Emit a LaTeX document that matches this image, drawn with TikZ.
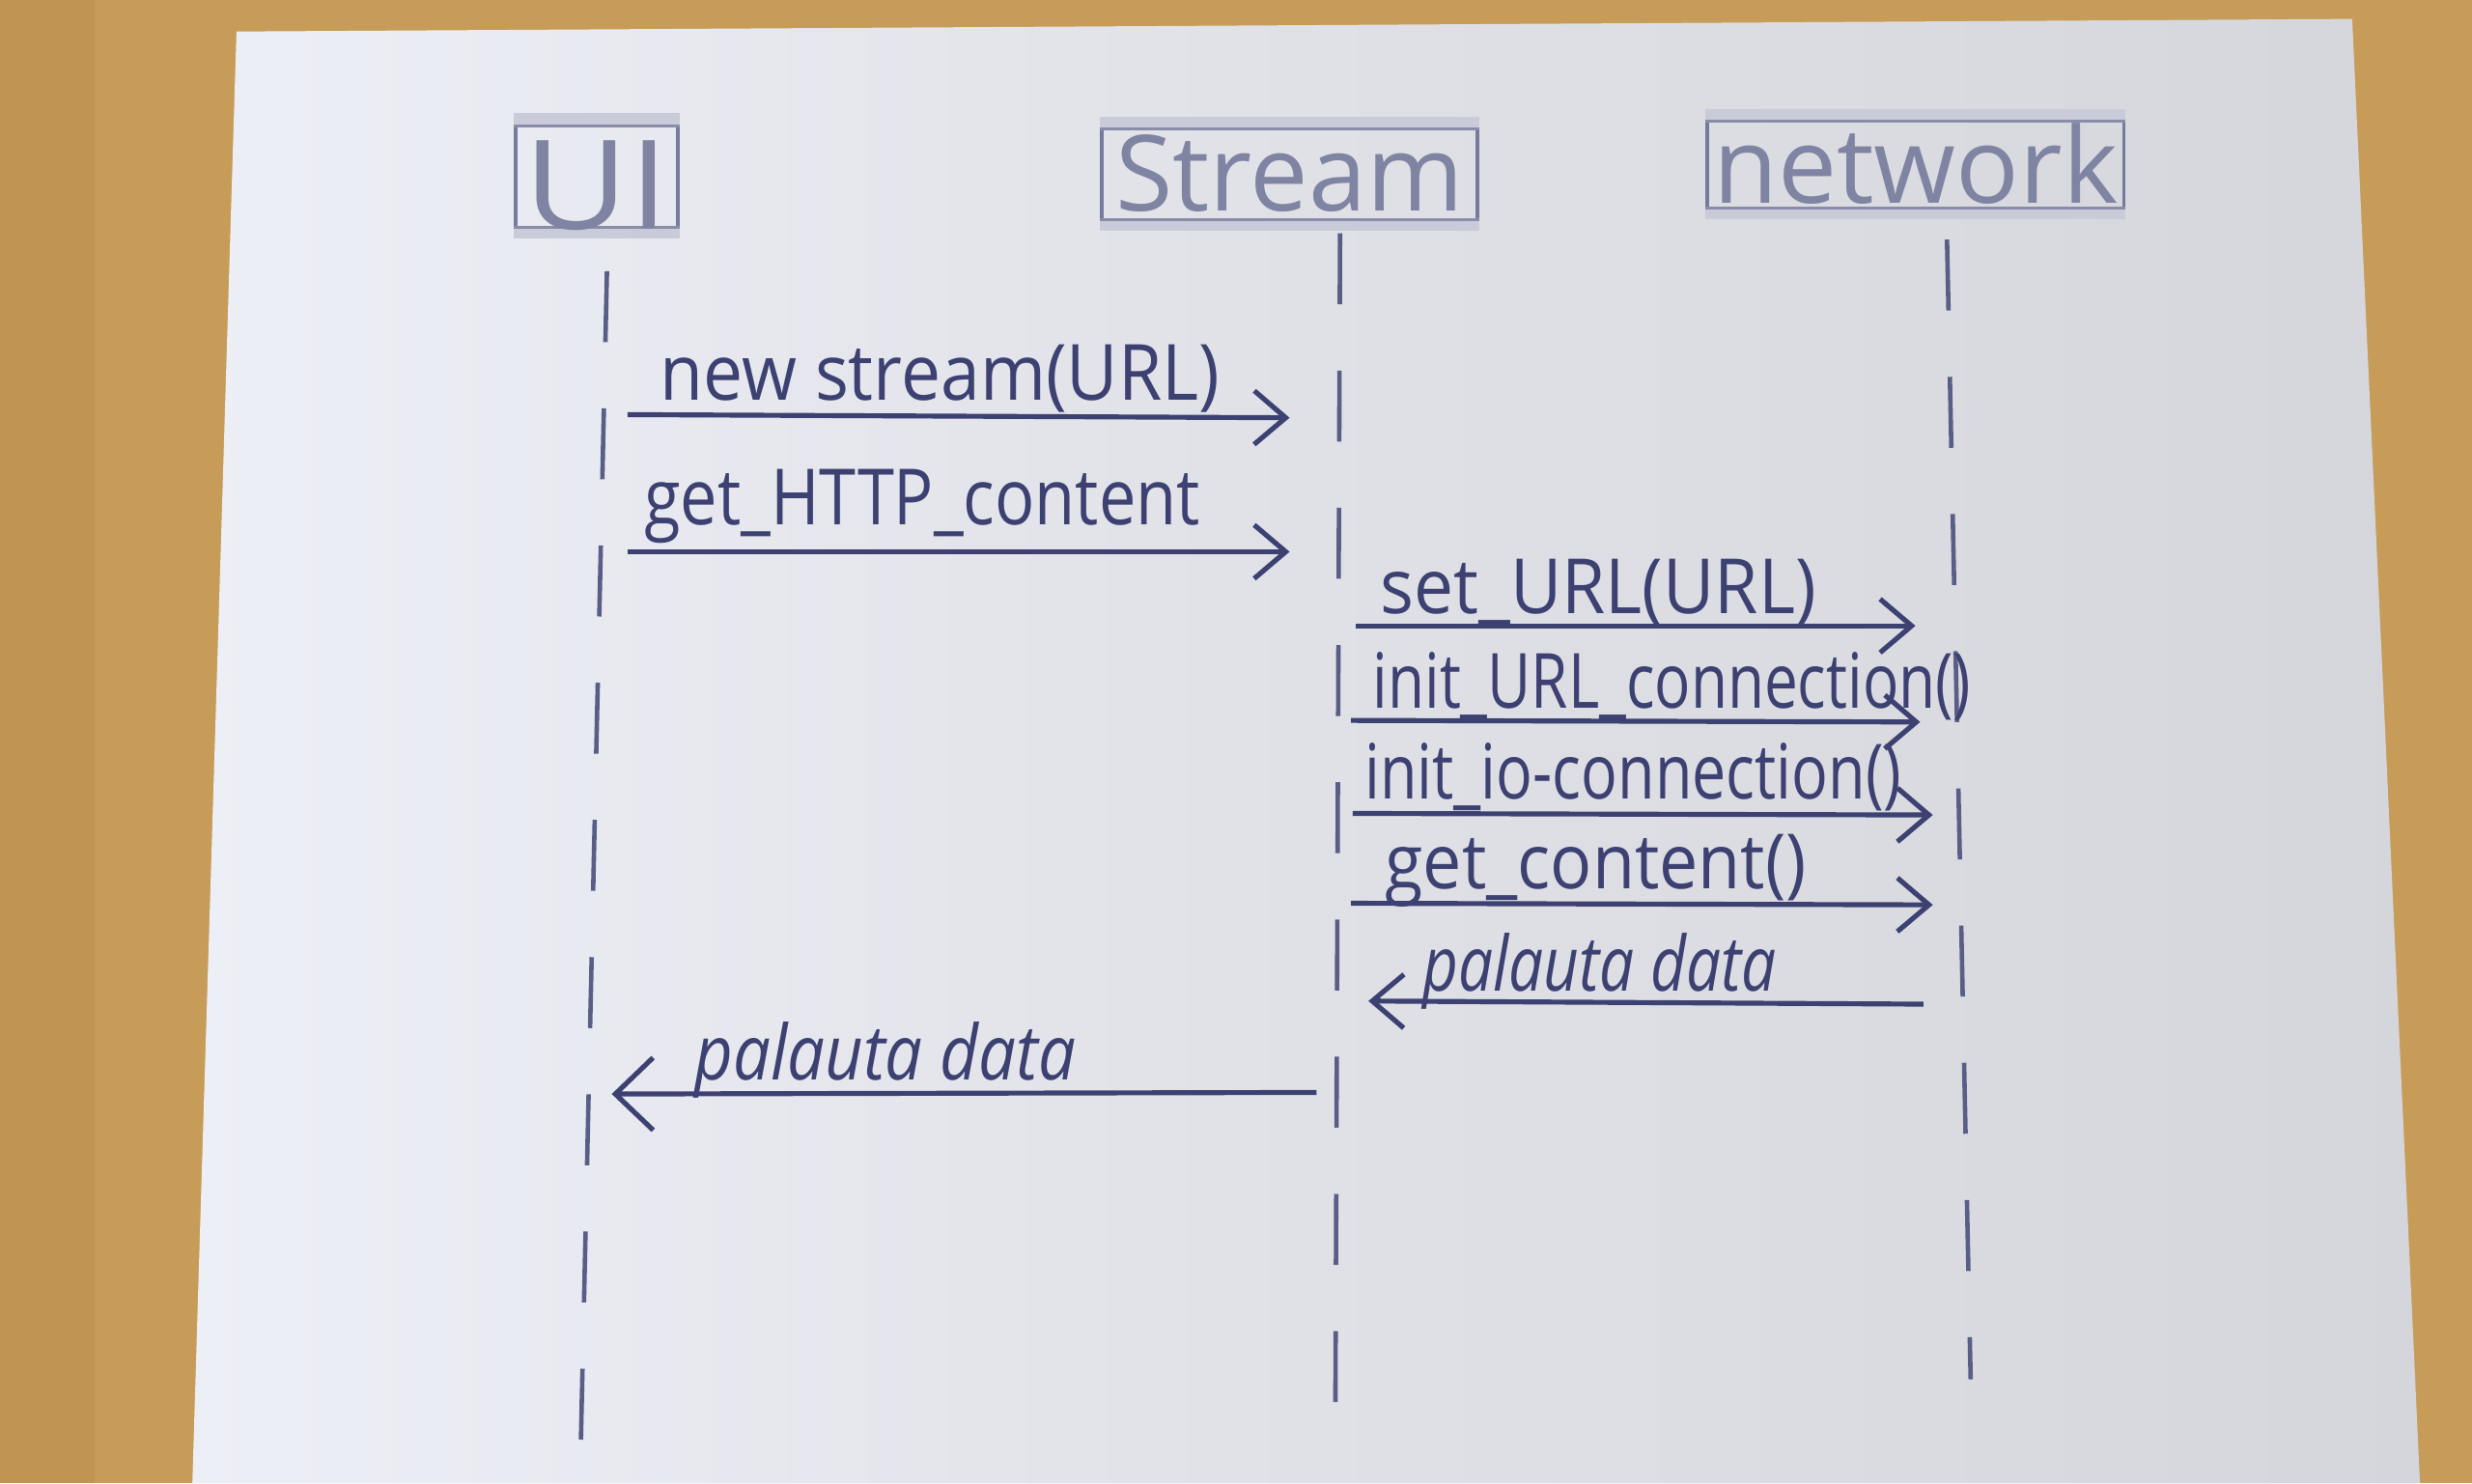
\documentclass[tikz,border=0pt]{standalone}
\usepackage{fontspec}
\setmainfont{Open Sans}
\usetikzlibrary{arrows.meta}
\definecolor{wood}{HTML}{C69C58}
\definecolor{woodD}{HTML}{B58A47}
\definecolor{paperL}{HTML}{EDEFF6}
\definecolor{paperM}{HTML}{E0E1E7}
\definecolor{paperR}{HTML}{D5D6DB}
\definecolor{pencil}{HTML}{3C4172}
\definecolor{band}{HTML}{C9CBD8}
\tikzset{
  msg/.style={draw=pencil, line width=0.9pt, -{Straight Barb[length=0.2cm,width=0.34cm,line width=0.9pt]}},
  life/.style={draw=pencil!85, line width=0.8pt, dash pattern=on 0.45cm off 0.42cm},
  lbl/.style={text=pencil, font=\fontsize{12.5}{15}\selectfont, inner sep=0pt, anchor=base west},
  headbox/.style={draw=pencil!70, line width=0.6pt, inner sep=0pt},
  headtxt/.style={text=pencil!65, font=\fontsize{20}{24}\selectfont, inner sep=0pt},
}
\newcommand{\headbands}[1]{%
  \fill[band] (#1.north west) rectangle ([yshift=-0.08cm]#1.north east);
  \draw[pencil!60, line width=0.5pt] ([yshift=-0.08cm]#1.north west) -- ([yshift=-0.08cm]#1.north east);
  \fill[band] (#1.south west) rectangle ([yshift=0.07cm]#1.south east);
  \draw[pencil!60, line width=0.5pt] ([yshift=0.07cm]#1.south west) -- ([yshift=0.07cm]#1.south east);
}
\begin{document}
\begin{tikzpicture}[x=0.01cm, y=-0.01cm]
\useasboundingbox (0,0) rectangle (1568,941);
% table
\fill[wood] (0,0) rectangle (1568,941);
\fill[woodD, opacity=0.35] (0,0) rectangle (60,941);
% paper
\shade[left color=paperL, right color=paperR, middle color=paperM]
  (150,20) -- (1492,12) -- (1535,941) -- (122,941) -- cycle;

% headers
\node[headbox, minimum width=1.03cm, minimum height=0.77cm] (ui) at (378.5,111.5) {};
\node[headbox, minimum width=2.38cm, minimum height=0.70cm] (stream) at (818,110) {};
\node[headbox, minimum width=2.64cm, minimum height=0.68cm] (net) at (1215,104) {};
\headbands{ui}
\headbands{stream}
\headbands{net}
\node[headtxt] (uit) at ([yshift=-0.06cm]ui.center) {\scalebox{1.3}[1.12]{UI}};
\node[headtxt] (streamt) at (stream.center) {\scalebox{0.94}[0.95]{Stream}};
\node[headtxt] (nett) at (net.center) {\scalebox{0.95}[0.95]{network}};

% lifelines
\coordinate (uiTop) at (385,172);
\coordinate (uiBot) at (368,935);
\coordinate (stTop) at (850,148);
\coordinate (stBot) at (847,905);
\coordinate (ntTop) at (1235,152);
\coordinate (ntBot) at (1250,875);
\draw[life] (uiTop) -- (uiBot);
\draw[life] (stTop) -- (stBot);
\draw[life] (ntTop) -- (ntBot);

% message end points
\coordinate (m1a) at (398,263);  \coordinate (m1b) at (818,265);
\coordinate (m2a) at (398,350);  \coordinate (m2b) at (818,350);
\coordinate (m3a) at (860,397);  \coordinate (m3b) at (1215,397);
\coordinate (m4a) at (857,457);  \coordinate (m4b) at (1218,458);
\coordinate (m5a) at (858,516);  \coordinate (m5b) at (1226,517);
\coordinate (m6a) at (857,573);  \coordinate (m6b) at (1226,574);
\coordinate (m7a) at (1220,637); \coordinate (m7b) at (868,635);
\coordinate (m8a) at (835,693);  \coordinate (m8b) at (388,694);

\draw[msg] (m1a) -- (m1b);
\draw[msg] (m2a) -- (m2b);
\draw[msg] (m3a) -- (m3b);
\draw[msg] (m4a) -- (m4b);
\draw[msg] (m5a) -- (m5b);
\draw[msg] (m6a) -- (m6b);
\draw[msg] (m7a) -- (m7b);
\draw[msg, -{Straight Barb[length=0.24cm,width=0.46cm,line width=0.9pt]}] (m8a) -- (m8b);

% labels
\node[lbl] (l1) at (418,254) {\scalebox{1.02}[1.12]{new stream(URL)}};
\node[lbl] (l2) at (408,333) {\scalebox{0.955}[1.12]{get\_HTTP\_content}};
\node[lbl] (l3) at (875,389) {\scalebox{1.02}[1.1]{set\_URL(URL)}};
\node[lbl] (l4) at (870,449) {\scalebox{0.864}[1.1]{init\_URL\_connection()}};
\node[lbl] (l5) at (865,507) {\scalebox{0.874}[1.1]{init\_io-connection()}};
\node[lbl] (l6) at (878,564) {\scalebox{1.0}[1.1]{get\_content()}};
\node[lbl] (l7) at (902,629) {\scalebox{0.89}[1.1]{\itshape palauta data}};
\node[lbl] (l8) at (440,685) {\scalebox{0.96}[1.1]{\itshape palauta data}};
\end{tikzpicture}
\end{document}
